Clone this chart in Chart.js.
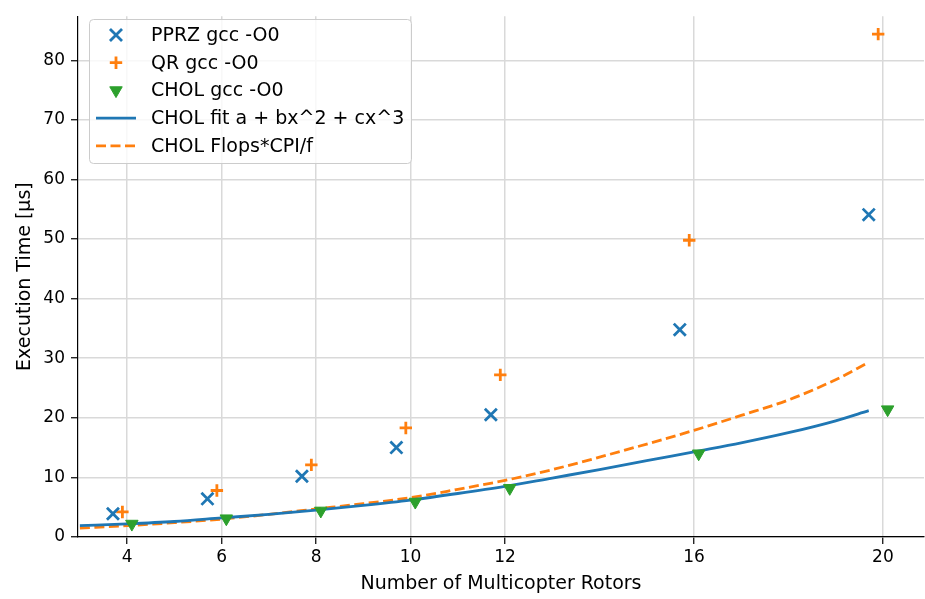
<!DOCTYPE html>
<html>
<head>
<meta charset="utf-8">
<script src="https://cdn.jsdelivr.net/npm/chart.js@4.4.0/dist/chart.umd.min.js"></script>
<style>
  html, body { margin: 0; padding: 0; background: #fff; }
  #wrap { width: 925px; height: 599px; }
</style>
</head>
<body>
<div id="wrap"><canvas id="plot" width="925" height="599"></canvas></div>
<script>
const pprzX = [3.7, 5.7, 7.7, 9.7, 11.7, 15.7, 19.7];
const pprzY = [3.9, 6.4, 10.2, 15.0, 20.5, 34.8, 54.1];
const qrX = [3.9, 5.9, 7.9, 9.9, 11.9, 15.9, 19.9];
const qrY = [4.2, 7.8, 12.1, 18.3, 27.2, 49.8, 84.4];
const cholX = [4.1, 6.1, 8.1, 10.1, 12.1, 16.1, 20.1];
const cholY = [2.2, 3.1, 4.4, 5.9, 8.2, 14.0, 21.4];

// curves, sampled off the figure
const curveX = [3, 4, 5, 6, 7, 8, 9, 10, 11, 12, 13, 14, 15, 16, 17, 18, 19, 19.7];
const fitY = [1.9, 2.2, 2.6, 3.2, 3.8, 4.5, 5.3, 6.2, 7.3, 8.5, 9.9, 11.3, 12.8, 14.3, 15.8, 17.5, 19.5, 21.2];
const flopsY = [1.5, 1.9, 2.4, 3.0, 3.8, 4.7, 5.6, 6.6, 8.0, 9.5, 11.3, 13.4, 15.6, 17.9, 20.4, 23.0, 26.4, 29.3];

const xTicks = [4, 6, 8, 10, 12, 16, 20];
const yTicks = [0, 10, 20, 30, 40, 50, 60, 70, 80];

const labels = ['PPRZ gcc -O0', 'QR gcc -O0', 'CHOL gcc -O0', 'CHOL fit a + bx^2 + cx^3', 'CHOL Flops*CPI/f'];

const blue = '#1f77b4', orange = '#ff7f0e', green = '#2ca02c';
const font = 'DejaVu Sans';

const pts = (xs, ys) => xs.map((x, i) => ({ x: x, y: ys[i] }));

const legendBox = {
  id: 'legendBox',
  afterDatasetsDraw(chart) {
    const ctx = chart.ctx;
    const x0 = 89, y0 = 19, w = 322, h = 144;
    ctx.save();
    ctx.beginPath();
    ctx.roundRect(x0 + 0.5, y0 + 0.5, w, h, 4);
    ctx.fillStyle = 'rgba(255,255,255,0.8)';
    ctx.fill();
    ctx.strokeStyle = '#cccccc';
    ctx.lineWidth = 1;
    ctx.stroke();
    ctx.font = '19px "' + font + '"';
    ctx.textBaseline = 'middle';
    chart.data.datasets.forEach((ds, i) => {
      const cy = 35 + i * 27.7;
      const cx = 116;
      ctx.save();
      if (ds.showLine) {
        ctx.strokeStyle = ds.borderColor;
        ctx.lineWidth = ds.borderWidth;
        ctx.setLineDash(ds.borderDash || []);
        ctx.beginPath();
        ctx.moveTo(96, cy);
        ctx.lineTo(136, cy);
        ctx.stroke();
      } else {
        ctx.strokeStyle = ds.borderColor;
        ctx.fillStyle = ds.backgroundColor;
        ctx.lineWidth = ds.borderWidth;
        Chart.helpers.drawPoint(ctx, {
          pointStyle: ds.pointStyle,
          rotation: ds.rotation || 0,
          radius: ds.pointRadius,
          borderWidth: ds.borderWidth
        }, cx, cy);
      }
      ctx.restore();
      ctx.fillStyle = '#000';
      ctx.fillText(ds.label, 151, cy + 1);
    });
    ctx.restore();
  }
};

new Chart(document.getElementById('plot'), {
  type: 'scatter',
  data: {
    datasets: [
      { label: labels[0], data: pts(pprzX, pprzY), pointStyle: 'crossRot', pointRadius: 8.5,
        borderColor: blue, backgroundColor: blue, borderWidth: 2.8, showLine: false },
      { label: labels[1], data: pts(qrX, qrY), pointStyle: 'cross', pointRadius: 6.2,
        borderColor: orange, backgroundColor: orange, borderWidth: 2.8, showLine: false },
      { label: labels[2], data: pts(cholX, cholY), pointStyle: 'triangle', rotation: 180, pointRadius: 7.2,
        borderColor: green, backgroundColor: green, borderWidth: 1, showLine: false },
      { label: labels[3], data: pts(curveX, fitY), showLine: true, pointRadius: 0, cubicInterpolationMode: 'monotone',
        borderColor: blue, backgroundColor: blue, borderWidth: 2.8 },
      { label: labels[4], data: pts(curveX, flopsY), showLine: true, pointRadius: 0, cubicInterpolationMode: 'monotone',
        borderColor: orange, backgroundColor: orange, borderWidth: 2.8, borderDash: [10, 4.5] }
    ]
  },
  options: {
    responsive: false,
    animation: false,
    devicePixelRatio: 1,
    layout: { autoPadding: false, padding: { top: 16, right: 1, left: 0, bottom: 0 } },
    plugins: { legend: { display: false }, tooltip: { enabled: false } },
    scales: {
      x: {
        type: 'linear', min: 2.96, max: 20.87,
        afterBuildTicks: s => { s.ticks = xTicks.map(v => ({ value: v })); },
        afterFit: s => { s.height = 62; },
        ticks: { color: '#000', padding: 3, font: { family: font, size: 17 } },
        grid: { color: '#d9d9d9', lineWidth: 1.5, tickColor: '#000', tickLength: 7, tickWidth: 1.2 },
        border: { color: '#000', width: 1.2 },
        title: { display: true, text: 'Number of Multicopter Rotors', color: '#000',
          font: { family: font, size: 19 }, padding: { top: 0, bottom: 4 } }
      },
      y: {
        min: 0, max: 87.4,
        afterBuildTicks: s => { s.ticks = yTicks.map(v => ({ value: v })); },
        afterFit: s => { s.width = 78; },
        ticks: { color: '#000', padding: 6, font: { family: font, size: 17 } },
        grid: { color: '#d9d9d9', lineWidth: 1.5, tickColor: '#000', tickLength: 7, tickWidth: 1.2 },
        border: { color: '#000', width: 1.2 },
        title: { display: true, text: 'Execution Time [µs]', color: '#000',
          font: { family: font, size: 19 }, padding: { top: 14, bottom: 0 } }
      }
    }
  },
  plugins: [legendBox]
});
</script>
</body>
</html>
